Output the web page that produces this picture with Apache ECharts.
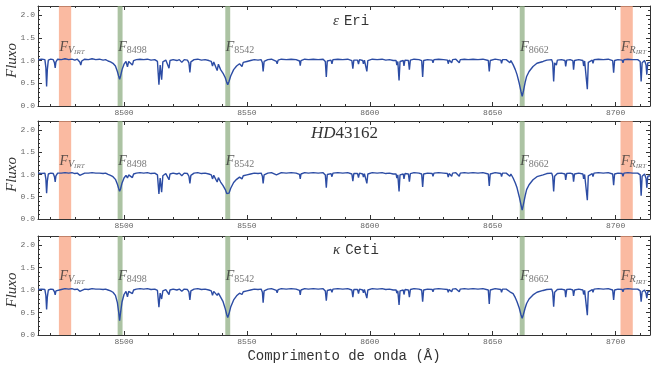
<!DOCTYPE html>
<html>
<head>
<meta charset="utf-8">
<script src="https://cdn.jsdelivr.net/npm/echarts@6/dist/echarts.min.js"></script>
<style>html,body{margin:0;padding:0;background:#fff;}#c{width:652px;height:370px;}</style>
</head>
<body>
<div id="c"></div>
<script>
// ---- data ----
const xMin = 8465, xMax = 8714;
const yMin = 0, yMax = 2.2;
const yTicksStep = 0.5;
const panelNames = ['eps', 'hd', 'kap'];

// spectral windows [start, end] in Angstrom
const bandRanges = [[8473.5, 8478.5], [8497.4, 8499.4], [8541.2, 8543.2], [8661.0, 8663.0], [8702.0, 8707.0]];
const bandKinds = ['irt', 'line', 'line', 'line', 'irt'];
const bandLabels = ['{F|F}{sub|V}{sub2|IRT}', '{F|F}{num|8498}', '{F|F}{num|8542}', '{F|F}{num|8662}', '{F|F}{sub|R}{sub2|IRT}'];
const bandLabelFlux = 1.3;

// epsilon Eri
const specEps = [
[8465.0,1.02],[8466.5,1.03],[8467.8,1.02],[8468.2,0.85],[8468.5,0.43],[8468.8,0.80],[8469.2,1.01],[8470.2,1.03],
[8471.2,1.02],[8471.7,0.95],[8472.0,0.84],[8472.3,0.97],[8473.0,1.03],[8474.5,1.02],[8476.0,1.04],[8477.5,1.02],
[8478.8,1.03],[8480.0,1.01],[8481.0,1.03],[8482.0,0.97],[8482.4,0.90],[8482.8,0.99],[8484.0,1.03],[8485.5,1.02],
[8487.0,1.04],[8488.5,1.02],[8490.0,1.03],[8491.5,1.01],[8492.5,1.02],[8493.5,0.99],[8494.5,0.97],[8495.5,0.94],
[8496.5,0.88],[8497.3,0.76],[8497.8,0.66],[8498.2,0.59],[8498.6,0.66],[8499.2,0.80],[8500.0,0.92],[8500.8,0.98],
[8501.4,0.86],[8501.9,0.98],[8502.6,1.00],[8503.4,0.90],[8503.9,1.00],[8505.0,1.02],[8506.5,1.03],[8508.0,1.02],
[8509.5,1.03],[8511.0,1.01],[8512.5,1.02],[8513.6,0.98],[8514.2,0.47],[8514.7,0.90],[8515.3,0.58],[8515.8,0.97],
[8517.0,1.01],[8518.3,0.83],[8518.7,1.00],[8520.0,1.02],[8521.5,1.00],[8522.5,1.02],[8523.5,0.96],[8524.5,1.02],
[8525.8,1.01],[8526.4,0.95],[8526.8,0.74],[8527.2,0.97],[8528.5,1.02],[8530.0,1.03],[8531.5,1.01],[8533.0,1.02],
[8534.5,1.00],[8535.5,0.98],[8536.0,0.88],[8536.5,0.97],[8537.2,0.95],[8537.9,0.78],[8538.4,0.92],[8539.3,0.80],
[8540.3,0.72],[8541.2,0.62],[8541.8,0.52],[8542.2,0.47],[8542.7,0.54],[8543.4,0.66],[8544.6,0.80],[8545.8,0.88],
[8547.0,0.93],[8548.0,0.87],[8548.5,0.96],[8550.0,0.98],[8551.5,1.00],[8553.0,1.02],[8554.5,1.01],[8555.8,1.02],
[8556.3,0.95],[8556.6,0.76],[8557.0,0.98],[8558.5,1.02],[8560.0,1.03],[8562.0,0.98],[8562.3,0.93],[8562.7,1.01],
[8564.0,1.03],[8566.0,1.02],[8568.0,1.03],[8570.0,1.02],[8571.4,0.99],[8571.7,0.89],[8572.0,1.00],[8573.5,1.03],
[8575.0,1.02],[8577.0,1.03],[8579.0,1.02],[8581.0,1.03],[8581.9,0.98],[8582.3,0.64],[8582.7,0.99],[8584.2,1.01],
[8584.6,0.93],[8585.0,1.02],[8587.0,1.03],[8589.0,1.02],[8591.0,1.03],[8592.7,1.00],[8593.1,0.82],[8593.5,1.01],
[8595.0,1.01],[8595.4,0.92],[8595.8,1.02],[8597.1,1.00],[8597.4,0.93],[8597.8,1.01],[8598.5,0.99],[8598.8,0.76],
[8599.2,1.00],[8601.0,1.03],[8603.0,1.02],[8605.0,1.03],[8606.5,1.01],[8608.0,1.02],[8609.5,1.00],[8610.7,1.00],
[8611.0,0.90],[8611.4,0.98],[8611.9,0.56],[8612.3,0.98],[8613.6,1.00],[8613.9,0.88],[8614.3,1.01],[8615.7,1.00],
[8616.1,0.80],[8616.5,1.01],[8618.0,1.03],[8620.0,1.02],[8621.1,1.00],[8621.5,0.64],[8621.9,1.00],[8623.5,1.02],
[8625.4,1.01],[8625.7,0.95],[8626.1,1.02],[8628.0,1.03],[8630.0,1.02],[8631.6,1.01],[8631.9,0.93],[8632.3,1.01],
[8633.3,0.95],[8633.7,1.02],[8635.0,1.03],[8636.4,0.95],[8636.8,1.02],[8638.5,1.03],[8640.0,1.02],[8642.0,1.03],
[8644.0,1.02],[8646.0,1.03],[8648.2,1.00],[8648.6,0.76],[8649.0,1.00],[8651.0,1.03],[8653.3,1.01],[8653.6,0.94],
[8654.0,1.02],[8655.5,1.02],[8657.0,0.95],[8657.4,1.00],[8658.3,0.91],[8659.2,0.80],[8659.9,0.69],[8660.8,0.50],
[8661.5,0.32],[8662.0,0.21],[8662.5,0.33],[8663.2,0.52],[8663.8,0.65],[8664.8,0.76],[8666.4,0.87],[8668.0,0.94],
[8670.5,0.98],[8672.0,1.01],[8674.0,1.02],[8674.4,0.95],[8674.8,0.54],[8675.2,0.95],[8675.6,0.98],[8675.9,0.90],
[8676.3,1.01],[8678.0,1.02],[8679.4,1.00],[8679.7,0.87],[8680.1,1.01],[8681.5,1.02],[8682.6,1.00],[8682.9,0.80],
[8683.3,1.00],[8685.0,1.02],[8686.7,1.00],[8687.0,0.88],[8687.4,0.99],[8688.1,0.97],[8688.5,0.37],[8688.9,0.96],
[8690.5,1.01],[8690.8,0.94],[8691.2,1.02],[8693.0,1.03],[8695.0,1.02],[8697.0,1.03],[8698.8,1.00],[8699.2,0.73],
[8699.6,1.00],[8701.0,1.02],[8702.7,1.01],[8703.0,0.95],[8703.4,1.02],[8705.0,1.03],[8707.0,1.02],[8709.0,1.02],
[8710.0,0.98],[8710.4,0.54],[8710.8,0.95],[8711.8,1.00],[8712.4,0.90],[8712.7,0.69],[8713.1,0.95],[8714.0,0.96]
];

// HD 43162
const specHD = [
[8465.0,1.03],[8466.5,1.02],[8467.8,1.03],[8468.2,0.90],[8468.5,0.58],[8468.8,0.85],[8469.2,1.01],[8470.2,1.03],
[8471.2,1.02],[8471.7,0.95],[8472.0,0.83],[8472.3,0.97],[8473.0,1.03],[8474.5,1.03],[8476.0,1.04],[8477.5,1.03],
[8478.8,1.04],[8480.0,1.02],[8481.0,1.03],[8482.0,0.98],[8482.4,0.95],[8482.8,1.00],[8484.0,1.03],[8485.5,1.03],
[8487.0,1.04],[8488.5,1.03],[8490.0,1.03],[8491.5,1.02],[8492.5,1.03],[8493.5,1.00],[8494.5,0.98],[8495.5,0.95],
[8496.5,0.89],[8497.3,0.78],[8497.8,0.69],[8498.2,0.62],[8498.6,0.68],[8499.2,0.81],[8500.0,0.92],[8500.8,0.98],
[8501.4,0.92],[8501.9,0.99],[8502.6,1.01],[8503.4,0.93],[8503.9,1.01],[8505.0,1.03],[8506.5,1.04],[8508.0,1.03],
[8509.5,1.04],[8511.0,1.02],[8512.5,1.03],[8513.6,0.99],[8514.2,0.56],[8514.7,0.92],[8515.3,0.60],[8515.8,0.97],
[8517.0,1.02],[8518.3,0.88],[8518.7,1.01],[8520.0,1.03],[8521.5,1.01],[8522.5,1.03],[8523.5,0.97],[8524.5,1.03],
[8525.8,1.02],[8526.4,0.96],[8526.8,0.80],[8527.2,0.98],[8528.5,1.03],[8530.0,1.04],[8531.5,1.02],[8533.0,1.03],
[8534.5,1.01],[8535.5,0.99],[8536.0,0.90],[8536.5,0.98],[8537.2,0.96],[8537.9,0.83],[8538.4,0.93],[8539.3,0.83],
[8540.3,0.75],[8541.2,0.66],[8541.8,0.57],[8542.2,0.53],[8542.7,0.58],[8543.4,0.69],[8544.6,0.82],[8545.8,0.89],
[8547.0,0.94],[8548.0,0.90],[8548.5,0.97],[8550.0,0.99],[8551.5,1.01],[8553.0,1.03],[8554.5,1.02],[8555.8,1.03],
[8556.3,0.96],[8556.6,0.80],[8557.0,0.99],[8558.5,1.03],[8560.0,1.04],[8562.0,0.99],[8562.3,0.95],[8562.7,1.02],
[8564.0,1.04],[8566.0,1.03],[8568.0,1.04],[8570.0,1.03],[8571.4,1.00],[8571.7,0.90],[8572.0,1.01],[8573.5,1.04],
[8575.0,1.03],[8577.0,1.04],[8579.0,1.03],[8581.0,1.04],[8581.9,0.99],[8582.3,0.70],[8582.7,1.00],[8584.2,1.02],
[8584.6,0.95],[8585.0,1.03],[8587.0,1.04],[8589.0,1.03],[8591.0,1.04],[8592.7,1.01],[8593.1,0.85],[8593.5,1.02],
[8595.0,1.02],[8595.4,0.93],[8595.8,1.03],[8597.1,1.01],[8597.4,0.94],[8597.8,1.02],[8598.5,1.00],[8598.8,0.80],
[8599.2,1.01],[8601.0,1.04],[8603.0,1.03],[8605.0,1.04],[8606.5,1.02],[8608.0,1.03],[8609.5,1.01],[8610.7,1.01],
[8611.0,0.92],[8611.4,0.99],[8611.9,0.62],[8612.3,0.99],[8613.6,1.01],[8613.9,0.90],[8614.3,1.02],[8615.7,1.01],
[8616.1,0.84],[8616.5,1.02],[8618.0,1.04],[8620.0,1.03],[8621.1,1.01],[8621.5,0.72],[8621.9,1.01],[8623.5,1.03],
[8625.4,1.02],[8625.7,0.96],[8626.1,1.03],[8628.0,1.04],[8630.0,1.03],[8631.6,1.02],[8631.9,0.94],[8632.3,1.02],
[8633.3,0.96],[8633.7,1.03],[8635.0,1.04],[8636.4,0.96],[8636.8,1.03],[8638.5,1.04],[8640.0,1.03],[8642.0,1.04],
[8644.0,1.03],[8646.0,1.04],[8648.2,1.01],[8648.6,0.74],[8649.0,1.01],[8651.0,1.04],[8653.3,1.02],[8653.6,0.95],
[8654.0,1.03],[8655.5,1.03],[8657.0,0.96],[8657.4,1.01],[8658.3,0.92],[8659.2,0.81],[8659.9,0.70],[8660.8,0.50],
[8661.5,0.32],[8662.0,0.20],[8662.5,0.33],[8663.2,0.52],[8663.8,0.66],[8664.8,0.77],[8666.4,0.88],[8668.0,0.95],
[8670.5,0.99],[8672.0,1.02],[8674.0,1.03],[8674.4,0.96],[8674.8,0.62],[8675.2,0.96],[8675.6,0.99],[8675.9,0.92],
[8676.3,1.02],[8678.0,1.03],[8679.4,1.01],[8679.7,0.88],[8680.1,1.02],[8681.5,1.03],[8682.6,1.01],[8682.9,0.84],
[8683.3,1.01],[8685.0,1.03],[8686.7,1.01],[8687.0,0.90],[8687.4,1.00],[8688.1,0.98],[8688.5,0.42],[8688.9,0.97],
[8690.5,1.02],[8690.8,0.95],[8691.2,1.03],[8693.0,1.04],[8695.0,1.03],[8697.0,1.04],[8698.8,1.01],[8699.2,0.76],
[8699.6,1.01],[8701.0,1.03],[8702.7,1.02],[8703.0,0.96],[8703.4,1.03],[8705.0,1.04],[8707.0,1.03],[8709.0,1.03],
[8710.0,0.99],[8710.4,0.52],[8710.8,0.96],[8711.8,1.01],[8712.4,0.91],[8712.7,0.70],[8713.1,0.96],[8714.0,0.97]
];

// kappa Ceti
const specKap = [
[8465.0,1.01],[8466.5,1.02],[8467.8,1.01],[8468.2,0.88],[8468.5,0.57],[8468.8,0.84],[8469.2,1.00],[8470.2,1.02],
[8471.2,1.01],[8471.7,0.96],[8472.0,0.89],[8472.3,0.98],[8473.0,1.02],[8474.5,1.01],[8476.0,1.03],[8477.5,1.02],
[8478.8,1.03],[8480.0,1.01],[8481.0,1.02],[8482.0,0.97],[8482.4,0.93],[8482.8,0.99],[8484.0,1.02],[8485.5,1.01],
[8487.0,1.03],[8488.5,1.02],[8490.0,1.02],[8491.5,1.01],[8492.5,1.02],[8493.5,1.00],[8494.5,0.98],[8495.5,0.95],
[8496.5,0.88],[8497.3,0.72],[8497.8,0.52],[8498.2,0.32],[8498.6,0.50],[8499.2,0.74],[8500.0,0.90],[8500.8,0.97],
[8501.4,0.85],[8501.9,0.97],[8502.6,1.00],[8503.4,0.92],[8503.9,1.00],[8505.0,1.02],[8506.5,1.03],[8508.0,1.02],
[8509.5,1.03],[8511.0,1.01],[8512.5,1.02],[8513.6,0.99],[8514.2,0.62],[8514.7,0.93],[8515.3,0.80],[8515.8,0.98],
[8517.0,1.01],[8518.3,0.90],[8518.7,1.00],[8520.0,1.02],[8521.5,1.00],[8522.5,1.02],[8523.5,0.97],[8524.5,1.02],
[8525.8,1.01],[8526.4,0.96],[8526.8,0.78],[8527.2,0.98],[8528.5,1.02],[8530.0,1.03],[8531.5,1.01],[8533.0,1.02],
[8534.5,1.00],[8535.5,0.98],[8536.0,0.88],[8536.5,0.97],[8537.2,0.95],[8537.9,0.88],[8538.4,0.93],[8539.3,0.84],
[8540.3,0.74],[8541.2,0.58],[8541.8,0.45],[8542.2,0.39],[8542.7,0.47],[8543.4,0.62],[8544.6,0.78],[8545.8,0.87],
[8547.0,0.93],[8548.0,0.90],[8548.5,0.96],[8550.0,0.98],[8551.5,1.00],[8553.0,1.02],[8554.5,1.01],[8555.8,1.02],
[8556.3,0.95],[8556.6,0.72],[8557.0,0.98],[8558.5,1.02],[8560.0,1.03],[8562.0,0.99],[8562.3,0.94],[8562.7,1.01],
[8564.0,1.03],[8566.0,1.02],[8568.0,1.03],[8570.0,1.02],[8571.4,0.99],[8571.7,0.89],[8572.0,1.00],[8573.5,1.03],
[8575.0,1.02],[8577.0,1.03],[8579.0,1.02],[8581.0,1.03],[8581.9,0.98],[8582.3,0.76],[8582.7,0.99],[8584.2,1.01],
[8584.6,0.95],[8585.0,1.02],[8587.0,1.03],[8589.0,1.02],[8591.0,1.03],[8592.7,1.00],[8593.1,0.84],[8593.5,1.01],
[8595.0,1.01],[8595.4,0.92],[8595.8,1.02],[8597.1,1.00],[8597.4,0.94],[8597.8,1.01],[8598.5,0.99],[8598.8,0.82],
[8599.2,1.00],[8601.0,1.03],[8603.0,1.02],[8605.0,1.03],[8606.5,1.01],[8608.0,1.02],[8609.5,1.00],[8610.7,1.00],
[8611.0,0.93],[8611.4,0.98],[8611.9,0.67],[8612.3,0.98],[8613.6,1.00],[8613.9,0.90],[8614.3,1.01],[8615.7,1.00],
[8616.1,0.84],[8616.5,1.01],[8618.0,1.03],[8620.0,1.02],[8621.1,1.00],[8621.5,0.74],[8621.9,1.00],[8623.5,1.02],
[8625.4,1.01],[8625.7,0.96],[8626.1,1.02],[8628.0,1.03],[8630.0,1.02],[8631.6,1.01],[8631.9,0.95],[8632.3,1.01],
[8633.3,0.96],[8633.7,1.02],[8635.0,1.03],[8636.4,0.96],[8636.8,1.02],[8638.5,1.03],[8640.0,1.02],[8642.0,1.03],
[8644.0,1.02],[8646.0,1.03],[8648.2,1.00],[8648.6,0.69],[8649.0,1.00],[8651.0,1.03],[8653.3,1.01],[8653.6,0.95],
[8654.0,1.02],[8655.5,1.02],[8657.0,0.96],[8657.4,1.00],[8658.3,0.92],[8659.2,0.83],[8659.9,0.74],[8660.8,0.60],
[8661.5,0.45],[8662.0,0.37],[8662.5,0.46],[8663.2,0.60],[8663.8,0.70],[8664.8,0.80],[8666.4,0.89],[8668.0,0.95],
[8670.5,0.99],[8672.0,1.01],[8674.0,1.02],[8674.4,0.95],[8674.8,0.63],[8675.2,0.95],[8675.6,0.99],[8675.9,0.93],
[8676.3,1.01],[8678.0,1.02],[8679.4,1.00],[8679.7,0.84],[8680.1,1.01],[8681.5,1.02],[8682.6,1.00],[8682.9,0.87],
[8683.3,1.00],[8685.0,1.02],[8686.7,1.00],[8687.0,0.90],[8687.4,0.99],[8688.1,0.97],[8688.5,0.44],[8688.9,0.96],
[8690.5,1.01],[8690.8,0.95],[8691.2,1.02],[8693.0,1.03],[8695.0,1.02],[8697.0,1.03],[8698.8,1.00],[8699.2,0.78],
[8699.6,1.00],[8701.0,1.02],[8702.7,1.01],[8703.0,0.96],[8703.4,1.02],[8705.0,1.03],[8707.0,1.02],[8709.0,1.02],
[8710.0,0.98],[8710.4,0.74],[8710.8,0.96],[8711.8,1.00],[8712.4,0.92],[8712.7,0.82],[8713.1,0.96],[8714.0,0.97]
];

const spectra = [specEps, specHD, specKap];

// ---- layout / style ----
const grids = [
  {left: 38, top: 6, width: 612, height: 100, outerBoundsMode: 'none', containLabel: false},
  {left: 38, top: 121, width: 612, height: 98, outerBoundsMode: 'none', containLabel: false},
  {left: 38, top: 236, width: 612, height: 99, outerBoundsMode: 'none', containLabel: false}
];
const lineColor = '#2c4ca4';
const irtColor = 'rgba(248,160,125,0.72)';
const caColor = 'rgba(140,172,128,0.72)';
const frameColor = '#333';
const tickLabelColor = '#666';
const mono = 'Liberation Mono';
const serif = 'Liberation Serif';

const xAxes = [], yAxes = [], series = [];
grids.forEach((g, i) => {
  const common = {
    type: 'value', min: xMin, max: xMax, gridIndex: i, splitNumber: 5,
    axisLine: {onZero: false, lineStyle: {color: frameColor, width: 1}},
    axisTick: {inside: true, length: 4, lineStyle: {color: frameColor}},
    minorTick: {show: true, splitNumber: 5, length: 2, lineStyle: {color: frameColor}},
    splitLine: {show: false}
  };
  xAxes.push(Object.assign({}, common, {
    position: 'bottom',
    axisLabel: {show: true, showMinLabel: false, showMaxLabel: false, margin: 3,
      fontFamily: mono, fontSize: 8, color: tickLabelColor, formatter: v => String(Math.round(v))},
    name: i === 2 ? 'Comprimento de onda (Å)' : '',
    nameLocation: 'middle', nameGap: 14, nameMoveOverlap: false,
    nameTextStyle: {fontFamily: mono, fontSize: 14, color: '#333'}
  }));
  xAxes.push(Object.assign({}, common, {position: 'top', axisLabel: {show: false}}));
  const ycommon = {
    type: 'value', min: yMin, max: yMax, interval: yTicksStep, gridIndex: i,
    axisLine: {show: true, lineStyle: {color: frameColor, width: 1}},
    axisTick: {show: true, inside: true, length: 4, lineStyle: {color: frameColor}},
    minorTick: {show: true, splitNumber: 5, length: 2, lineStyle: {color: frameColor}},
    splitLine: {show: false}
  };
  yAxes.push(Object.assign({}, ycommon, {
    position: 'left',
    axisLabel: {show: true, showMaxLabel: false, margin: 3, fontFamily: mono, fontSize: 8,
      color: tickLabelColor, formatter: v => v.toFixed(1)},
    name: 'Fluxo', nameLocation: 'middle', nameGap: 18, nameMoveOverlap: false,
    nameTextStyle: {fontFamily: serif, fontStyle: 'italic', fontSize: 15, color: '#333', padding: [0, 9, 0, 0]}
  }));
  yAxes.push(Object.assign({}, ycommon, {position: 'right', axisLabel: {show: false}}));

  // shaded windows (behind the spectrum)
  series.push({
    type: 'line', xAxisIndex: 2 * i, yAxisIndex: 2 * i, data: [], silent: true, z: 1,
    markArea: {
      silent: true, z: 1,
      data: bandRanges.map((r, k) => [
        {xAxis: r[0], yAxis: yMin, itemStyle: {color: bandKinds[k] === 'irt' ? irtColor : caColor}},
        {xAxis: r[1], yAxis: yMax}
      ])
    }
  });
  series.push({
    type: 'line', xAxisIndex: 2 * i, yAxisIndex: 2 * i,
    data: spectra[i], showSymbol: false, symbol: 'none', silent: true,
    lineStyle: {color: lineColor, width: 1.4}, z: 5
  });
  series.push({
    type: 'scatter', xAxisIndex: 2 * i, yAxisIndex: 2 * i, silent: true, z: 6,
    symbolSize: 1, itemStyle: {color: 'rgba(0,0,0,0)'},
    data: bandRanges.map((r, k) => ({value: [r[0], bandLabelFlux], label: {formatter: bandLabels[k]}})),
    label: {
      show: true, position: 'right', distance: 0,
      rich: {
        F: {fontFamily: serif, fontStyle: 'italic', fontSize: 14, color: '#333', verticalAlign: 'middle'},
        num: {fontFamily: serif, fontSize: 10, color: '#555', padding: [6, 0, 0, 0], verticalAlign: 'middle'},
        sub: {fontFamily: serif, fontStyle: 'italic', fontSize: 10, color: '#444', padding: [6, 0, 0, 0], verticalAlign: 'middle'},
        sub2: {fontFamily: serif, fontStyle: 'italic', fontSize: 7, color: '#555', padding: [11, 0, 0, 0], verticalAlign: 'middle'}
      }
    }
  });
});

const titleRich = {
  g: {fontFamily: serif, fontStyle: 'italic', fontWeight: 'normal', fontSize: 15, color: '#333'},
  m: {fontFamily: mono, fontWeight: 'normal', fontSize: 14, color: '#333'},
  hi: {fontFamily: serif, fontStyle: 'italic', fontWeight: 'normal', fontSize: 17, color: '#333'},
  hn: {fontFamily: serif, fontWeight: 'normal', fontSize: 17, color: '#333'}
};

const chart = echarts.init(document.getElementById('c'), null, {renderer: 'canvas'});
chart.setOption({
  animation: false,
  backgroundColor: '#fff',
  title: [
    {text: '{g|ε} {m|Eri}', left: 333, top: 12, padding: 0, textStyle: {fontWeight: 'normal', rich: titleRich}},
    {text: '{hi|HD}{hn|43162}', left: 311, top: 125, padding: 0, textStyle: {fontWeight: 'normal', rich: titleRich}},
    {text: '{g|κ} {m|Ceti}', left: 333, top: 241, padding: 0, textStyle: {fontWeight: 'normal', rich: titleRich}}
  ],
  grid: grids,
  xAxis: xAxes,
  yAxis: yAxes,
  series: series
});
</script>
</body>
</html>
